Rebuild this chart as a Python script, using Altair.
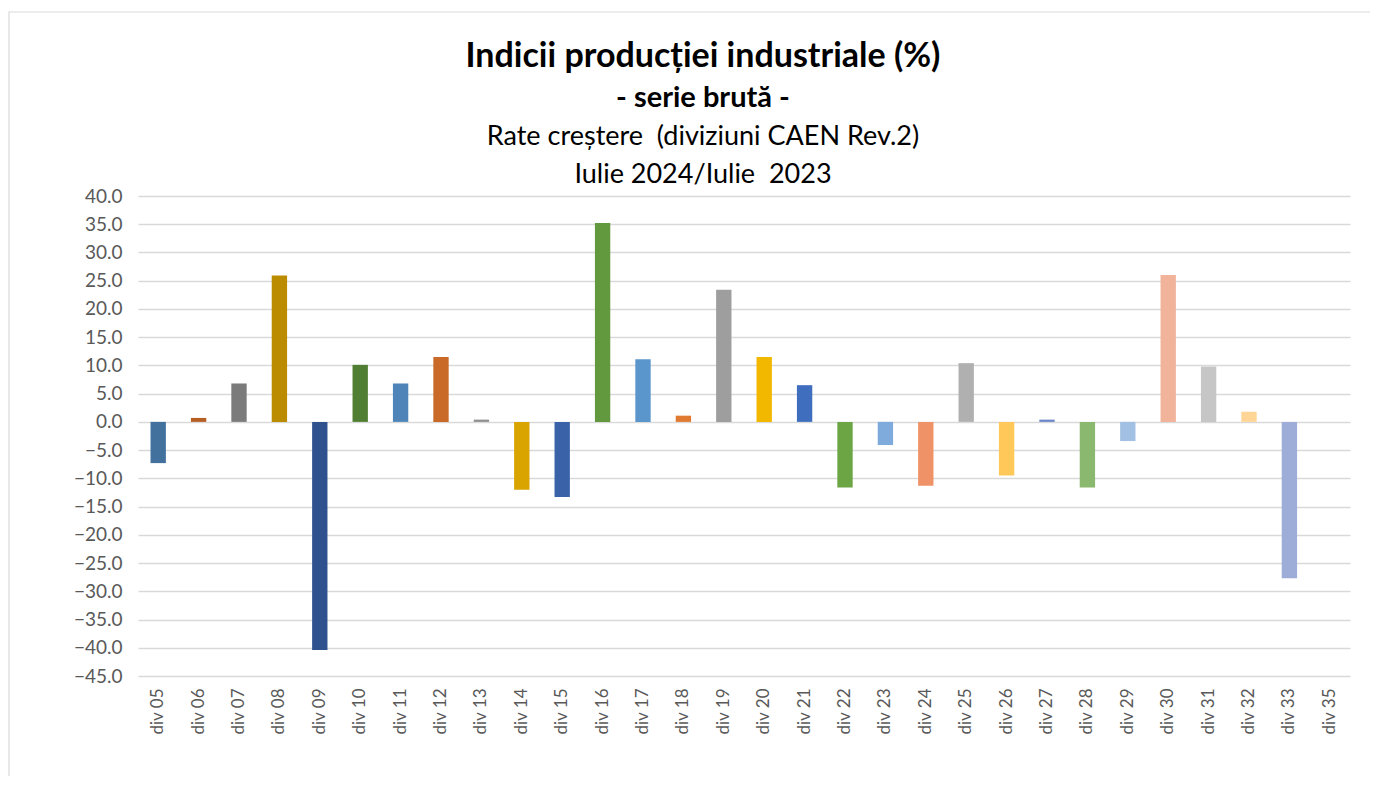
import altair as alt
import pandas as pd

categories = ["div 05", "div 06", "div 07", "div 08", "div 09", "div 10", "div 11", "div 12",
              "div 13", "div 14", "div 15", "div 16", "div 17", "div 18", "div 19", "div 20",
              "div 21", "div 22", "div 23", "div 24", "div 25", "div 26", "div 27", "div 28",
              "div 29", "div 30", "div 31", "div 32", "div 33", "div 35"]
values = [-7.3, 0.7, 6.8, 25.9, -40.4, 10.1, 6.8, 11.5,
          0.4, -12.0, -13.3, 35.2, 11.1, 1.1, 23.4, 11.5,
          6.5, -11.6, -4.1, -11.3, 10.4, -9.5, 0.4, -11.6,
          -3.4, 26.0, 9.8, 1.8, -27.7, None]
colors = ["#41719C", "#B65F25", "#7B7B7B", "#BC8C00", "#2F528F", "#507E32", "#4E84B8", "#C96A28",
          "#8F8F8F", "#D9A300", "#3A62A8", "#62993E", "#5A96CC", "#E07A30", "#9E9E9E", "#F2B800",
          "#3F6EBE", "#6BA544", "#7EAADC", "#F09267", "#B0B0B0", "#FFC859", "#6B87CA", "#8AB86E",
          "#A2BFE4", "#F2B39B", "#C6C6C6", "#FFD695", "#9EADD7", "#FFFFFF"]
y_ticks = [40, 35, 30, 25, 20, 15, 10, 5, 0, -5, -10, -15, -20, -25, -30, -35, -40, -45]

title_main = "Indicii producției industriale (%)"
title_bold2 = "- serie brută -"
title_line3 = "Rate creștere \u00a0(diviziuni CAEN Rev.2)"
title_line4 = "Iulie 2024/Iulie \u00a02023"

df = pd.DataFrame({"div": categories, "val": values})

FONT = "Lato"
W, H = 1212, 480
CX = 565

bars = alt.Chart(df).mark_bar().encode(
    x=alt.X("div:N", sort=categories,
            scale=alt.Scale(paddingInner=0.62, paddingOuter=0.31),
            axis=alt.Axis(title=None, labelAngle=-90, labelFont=FONT, labelFontSize=17,
                          labelColor="#595959", ticks=False, domain=False, labelPadding=12,
                          labelBaseline="middle", labelAlign="right")),
    y=alt.Y("val:Q", scale=alt.Scale(domain=[-45, 40], nice=False, zero=False),
            axis=alt.Axis(title=None, values=y_ticks, format=".1f", labelFont=FONT,
                          labelFontSize=19, labelColor="#595959", ticks=False, domain=False,
                          labelPadding=16, gridColor="#D9D9D9", gridWidth=1.4)),
    color=alt.Color("div:N", sort=categories,
                    scale=alt.Scale(domain=categories, range=colors), legend=None),
)


def title_text(txt, size, weight, ypos):
    return alt.Chart(pd.DataFrame({"t": [txt]})).mark_text(
        font=FONT, fontSize=size, fontWeight=weight, color="#000000",
        align="center", baseline="alphabetic"
    ).encode(text="t:N", x=alt.value(CX), y=alt.value(ypos))


t1 = title_text(title_main, 34, "bold", -129)
t2 = title_text(title_bold2, 29, "bold", -89)
t3 = title_text(title_line3, 27, "normal", -51)
t4 = title_text(title_line4, 27, "normal", -13)

border = alt.Chart(pd.DataFrame({"a": [0]})).mark_rect(
    fill=None, stroke="#D9D9D9", strokeWidth=1.2
).encode(x=alt.value(-129), x2=alt.value(1400), y=alt.value(-184), y2=alt.value(800))

chart = alt.layer(border, bars, t1, t2, t3, t4).properties(
    width=W, height=H,
    autosize=alt.AutoSizeParams(type="none"),
    padding={"left": 130, "top": 188, "right": 20, "bottom": 100},
    background="white",
).configure_view(stroke=None)

chart.save("out.html", embed_options={"renderer": "svg", "actions": False})
